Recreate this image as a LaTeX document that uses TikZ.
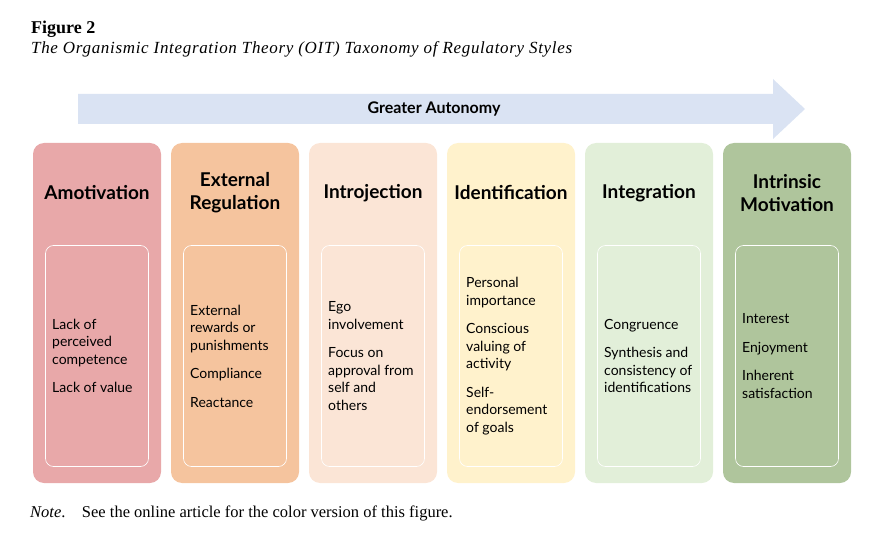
\documentclass[tikz,border=0pt]{standalone}
\usepackage{fontspec}
\setmainfont{Liberation Serif}
\newfontfamily\boxfont{Lato}
\usepackage{xcolor}
\usetikzlibrary{positioning}

\definecolor{arrowcol}{HTML}{DAE3F3}
\definecolor{amocol}{HTML}{E8A8A9}
\definecolor{extcol}{HTML}{F5C49E}
\definecolor{introcol}{HTML}{FBE5D6}
\definecolor{identcol}{HTML}{FFF2CC}
\definecolor{integcol}{HTML}{E2EFD9}
\definecolor{intrcol}{HTML}{AFC59C}

\tikzset{
  stage/.style={rectangle, rounded corners=11pt, minimum width=128pt,
    minimum height=340pt, inner sep=0pt, outer sep=0pt},
  items/.style={rectangle, draw=white, line width=0.6pt, rounded corners=8pt,
    minimum width=103pt, minimum height=221pt, inner sep=0pt, outer sep=0pt},
  stagename/.style={font=\boxfont\bfseries\fontsize{19}{23}\selectfont,
    align=center, inner sep=0pt},
  itemtext/.style={font=\boxfont\fontsize{14}{17.5}\selectfont,
    align=left, anchor=west, inner sep=0pt},
}

\begin{document}
\begin{tikzpicture}[x=1pt,y=1pt]
  \useasboundingbox (0,0) rectangle (872,544);
  % Caption
  \node[anchor=base west, inner sep=0pt, font=\bfseries\fontsize{18}{20}\selectfont] (fig) at (31,510) {Figure 2};
  \node[anchor=base west, inner sep=0pt, font=\itshape\fontsize{17}{20}\selectfont\addfontfeature{LetterSpace=4}] (title) at (31,490.5) {The Organismic Integration Theory (OIT) Taxonomy of Regulatory Styles};
  % Arrow
  \fill[arrowcol] (78,450) -- (773,450) -- (773,465) -- (805,435) -- (773,405) -- (773,420) -- (78,420) -- cycle;
  \node[font=\boxfont\bfseries\fontsize{16}{19}\selectfont] (autonomy) at (434,435) {Greater Autonomy};
  % Define nodes
  \node[stage, fill=amocol, anchor=north west] (amo) at (33,401) {}; %
  \node[stage, fill=extcol, right=10pt of amo] (ext) {}; %
  \node[stage, fill=introcol, right=10pt of ext] (intro) {}; %
  \node[stage, fill=identcol, right=10pt of intro] (ident) {}; %
  \node[stage, fill=integcol, right=10pt of ident] (integ) {}; %
  \node[stage, fill=intrcol, right=10pt of integ] (intr) {};
  \node[items, above=16.5pt of amo.south] (amoitems) {}; %
  \node[items, above=16.5pt of ext.south] (extitems) {}; %
  \node[items, above=16.5pt of intro.south] (introitems) {}; %
  \node[items, above=16.5pt of ident.south] (identitems) {}; %
  \node[items, above=16.5pt of integ.south] (integitems) {}; %
  \node[items, above=16.5pt of intr.south] (intritems) {};
  % Stage names
  \node[stagename] (amoname) at ([yshift=-50pt]amo.north) {Amotivation};
  \node[stagename] (extname) at ([yshift=-50pt]ext.north) {External\\Regulation};
  \node[stagename] (introname) at ([yshift=-50pt]intro.north) {Introjection};
  \node[stagename] (identname) at ([yshift=-50pt]ident.north) {Identification};
  \node[stagename] (integname) at ([yshift=-50pt]integ.north) {Integration};
  \node[stagename] (intrname) at ([yshift=-50pt]intr.north) {Intrinsic\\Motivation};
  % Items
  \node[itemtext] (amotext) at ([xshift=6.5pt]amoitems.west) {Lack of\\perceived\\competence\\[11pt]Lack of value};
  \node[itemtext] (exttext) at ([xshift=6.5pt]extitems.west) {External\\rewards or\\punishments\\[11pt]Compliance\\[11pt]Reactance};
  \node[itemtext] (introtext) at ([xshift=6.5pt]introitems.west) {Ego\\involvement\\[11pt]Focus on\\approval from\\self and\\others};
  \node[itemtext] (identtext) at ([xshift=6.5pt]identitems.west) {Personal\\importance\\[11pt]Conscious\\valuing of\\activity\\[11pt]Self-\\endorsement\\of goals};
  \node[itemtext] (integtext) at ([xshift=6.5pt]integitems.west) {Congruence\\[11pt]Synthesis and\\consistency of\\identifications};
  \node[itemtext] (intrtext) at ([xshift=6.5pt]intritems.west) {Interest\\[11pt]Enjoyment\\[11pt]Inherent\\satisfaction};
  % Note
  \node[anchor=base west, inner sep=0pt, font=\fontsize{16.5}{19}\selectfont] (note) at (30,27) {\textit{Note}.\quad See the online article for the color version of this figure.};
\end{tikzpicture}
\end{document}
